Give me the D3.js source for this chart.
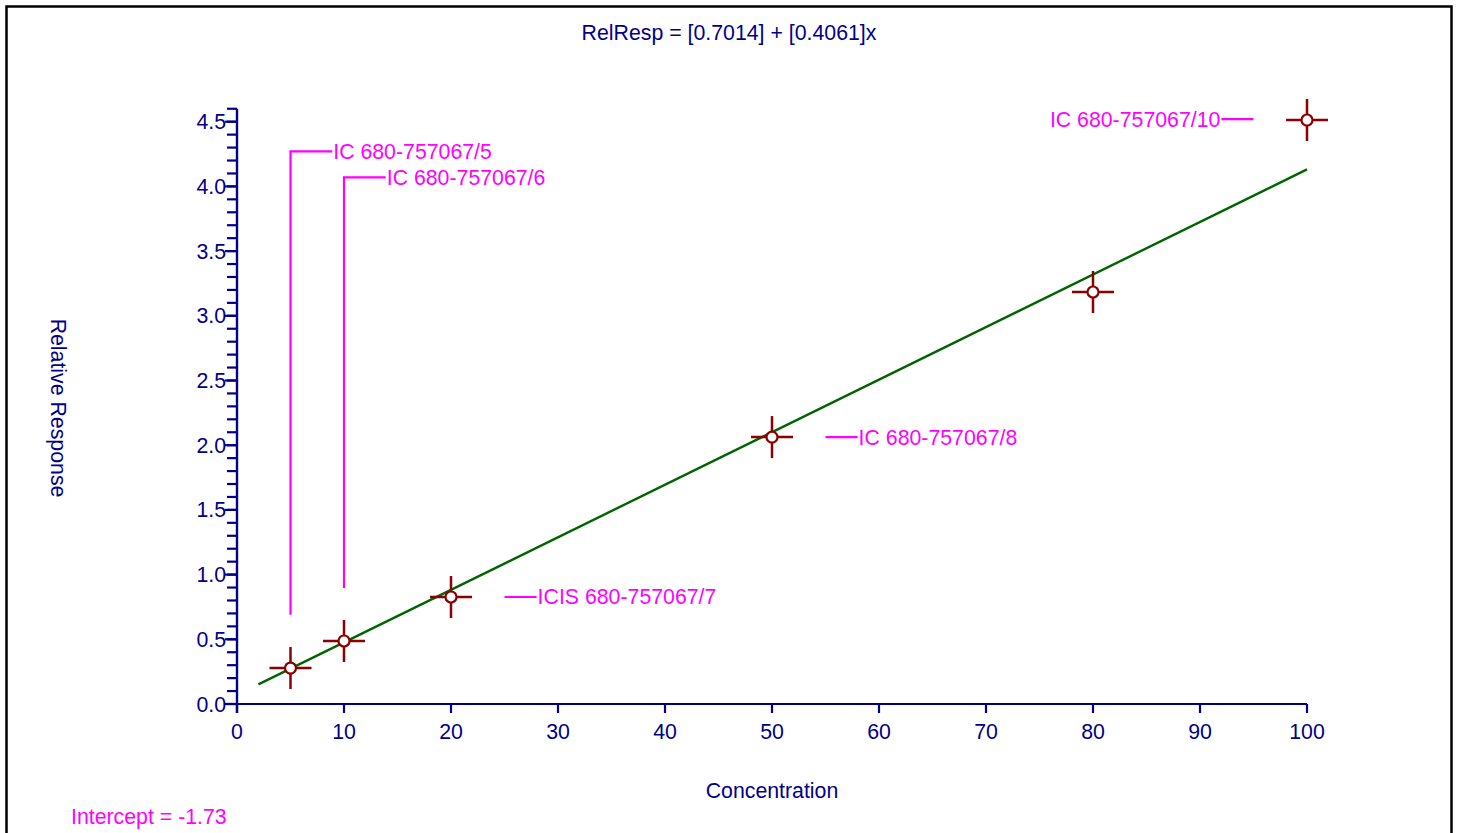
<!DOCTYPE html>
<html>
<head>
<meta charset="utf-8">
<script src="https://cdn.jsdelivr.net/npm/d3@7"></script>
<style>
  html, body { margin: 0; padding: 0; background: #fff; }
  svg { display: block; font-family: "Liberation Sans", Arial, sans-serif; }
</style>
</head>
<body>
<svg id="chart" width="1457" height="833"></svg>
<script>
// Calibration standards
const concentrations = [5, 10, 20, 50, 80, 100];
const relResponses   = [0.278, 0.487, 0.827, 2.063, 3.184, 4.513];
const sampleNames    = ["IC 680-757067/5", "IC 680-757067/6", "ICIS 680-757067/7",
                        "IC 680-757067/8", "", "IC 680-757067/10"];

// Fitted curve: RelResp = [a] + [b]x, in tenths of the plotted response
const fitIntercept = 0.7014;
const fitSlope = 0.4061;
const fitScale = 0.1;
const fitRange = [2, 100];
const interceptText = "Intercept = -1.73";

// Axis ticks
const xTicks = [0, 10, 20, 30, 40, 50, 60, 70, 80, 90, 100];
const yMajorTicks = [0, 0.5, 1.0, 1.5, 2.0, 2.5, 3.0, 3.5, 4.0, 4.5];
const yMinorTicks = d3.range(0, 47).map(i => i / 10);

const navy = "#00008b";
const magenta = "#ff00ff";
const darkRed = "#8b0000";
const green = "#006400";
const fs = 21.3;

const svg = d3.select("#chart");

// Frame
svg.append("rect")
  .attr("x", 6.5).attr("y", 6.5)
  .attr("width", 1445).attr("height", 840)
  .attr("fill", "none").attr("stroke", "#000").attr("stroke-width", 2.5);

const x = d3.scaleLinear().domain([0, 100]).range([237, 1307]);
const y = d3.scaleLinear().domain([0, 4.5]).range([704, 121.7]);

// X axis
svg.append("line")
  .attr("x1", x(0)).attr("x2", x(100)).attr("y1", y(0)).attr("y2", y(0))
  .attr("stroke", navy).attr("stroke-width", 2.2);
svg.selectAll(".xtick").data(xTicks).enter().append("line")
  .attr("x1", d => x(d)).attr("x2", d => x(d))
  .attr("y1", y(0)).attr("y2", y(0) + 9)
  .attr("stroke", navy).attr("stroke-width", 2.2);
svg.selectAll(".xlab").data(xTicks).enter().append("text")
  .attr("x", d => x(d)).attr("y", y(0) + 35)
  .attr("text-anchor", "middle").attr("fill", navy).attr("font-size", fs)
  .text(d => d);

// Y axis
svg.append("line")
  .attr("x1", x(0)).attr("x2", x(0)).attr("y1", y(4.6)).attr("y2", y(0) + 9)
  .attr("stroke", navy).attr("stroke-width", 2.4);
svg.selectAll(".yminor").data(yMinorTicks).enter().append("line")
  .attr("x1", x(0) - 10).attr("x2", x(0))
  .attr("y1", d => y(d)).attr("y2", d => y(d))
  .attr("stroke", navy).attr("stroke-width", 2.2);
svg.selectAll(".ymajor").data(yMajorTicks).enter().append("line")
  .attr("x1", x(0) - 12).attr("x2", x(0))
  .attr("y1", d => y(d)).attr("y2", d => y(d))
  .attr("stroke", navy).attr("stroke-width", 2.2);
svg.selectAll(".ylab").data(yMajorTicks).enter().append("text")
  .attr("x", x(0) - 11).attr("y", d => y(d) + 7.5)
  .attr("text-anchor", "end").attr("fill", navy).attr("font-size", fs)
  .text(d => d.toFixed(1));

// Axis titles
svg.append("text")
  .attr("transform", "translate(51, 408) rotate(90)")
  .attr("text-anchor", "middle").attr("fill", navy).attr("font-size", fs)
  .text("Relative Response");
svg.append("text")
  .attr("x", x(50)).attr("y", 798)
  .attr("text-anchor", "middle").attr("fill", navy).attr("font-size", fs)
  .text("Concentration");

// Title with fitted equation
svg.append("text")
  .attr("x", 729).attr("y", 40)
  .attr("text-anchor", "middle").attr("fill", navy).attr("font-size", fs)
  .text(`RelResp = [${fitIntercept}] + [${fitSlope}]x`);

// Intercept note
svg.append("text")
  .attr("x", 71).attr("y", 824)
  .attr("fill", magenta).attr("font-size", fs)
  .text(interceptText);

// Fitted line
const fit = c => (fitIntercept + fitSlope * c) * fitScale;
svg.append("line")
  .attr("x1", x(fitRange[0])).attr("y1", y(fit(fitRange[0])))
  .attr("x2", x(fitRange[1])).attr("y2", y(fit(fitRange[1])))
  .attr("stroke", green).attr("stroke-width", 2.4);

// Sample labels with leader lines (drawn in data units)
const leaders = [
  { i: 0, path: [[5, 0.69], [5, 4.27], [8.9, 4.27]], anchor: "start" },
  { i: 1, path: [[10, 0.896], [10, 4.07], [13.9, 4.07]], anchor: "start" },
  { i: 2, path: [[25, 0.827], [28, 0.827]], anchor: "start" },
  { i: 3, path: [[55, 2.063], [58, 2.063]], anchor: "start" },
  { i: 5, path: [[95, 4.52], [92, 4.52]], anchor: "end" }
];
const lineGen = d3.line().x(d => x(d[0])).y(d => y(d[1]));
leaders.forEach(l => {
  svg.append("path")
    .attr("d", lineGen(l.path))
    .attr("fill", "none").attr("stroke", magenta).attr("stroke-width", 2.2);
  const end = l.path[l.path.length - 1];
  svg.append("text")
    .attr("x", x(end[0]) + (l.anchor === "start" ? 1 : -1))
    .attr("y", y(end[1]) + 7.5)
    .attr("text-anchor", l.anchor)
    .attr("fill", magenta).attr("font-size", fs)
    .text(sampleNames[l.i]);
});

// Calibration points: crosshair marker with open circle
const pts = concentrations.map((c, i) => ({ c, r: relResponses[i] }));
const arm = 21;
const g = svg.selectAll(".pt").data(pts).enter().append("g")
  .attr("transform", d => `translate(${x(d.c)},${y(d.r)})`);
g.append("line").attr("x1", -arm).attr("x2", arm).attr("y1", 0).attr("y2", 0)
  .attr("stroke", darkRed).attr("stroke-width", 2.5);
g.append("line").attr("x1", 0).attr("x2", 0).attr("y1", -arm).attr("y2", arm)
  .attr("stroke", darkRed).attr("stroke-width", 2.5);
g.append("circle").attr("r", 5.5)
  .attr("fill", "#fff").attr("stroke", darkRed).attr("stroke-width", 2.2);
</script>
</body>
</html>
